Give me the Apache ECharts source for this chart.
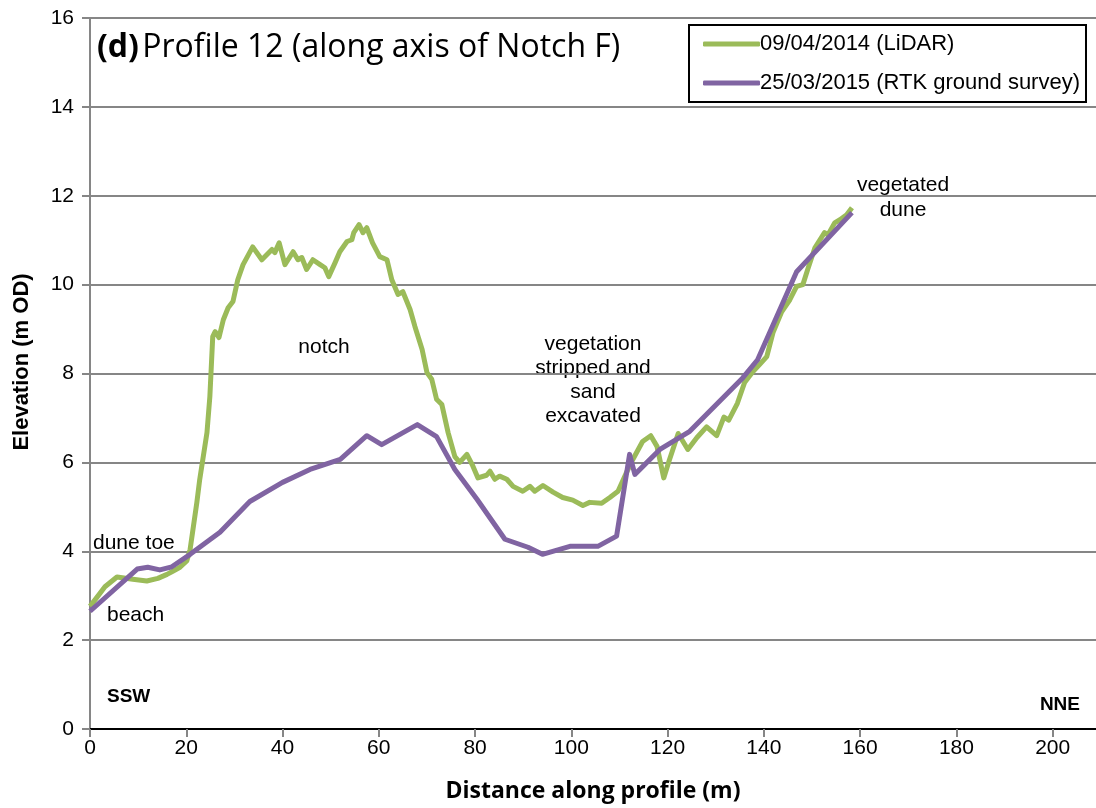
<!DOCTYPE html>
<html><head><meta charset="utf-8">
<script src="https://cdn.jsdelivr.net/npm/echarts@6/dist/echarts.min.js"></script>
<style>html,body{margin:0;padding:0;background:#fff}#c{width:1096px;height:808px}</style>
</head><body><div id="c"></div>
<script>
// LiDAR 09/04/2014
const lidarX = [0,1,3.1,5.6,8.9,11.8,14.1,16,17.2,18.7,20.1,20.8,22.2,22.8,24.3,24.9,25.5,26,26.8,27.7,28.7,29.7,30.7,31.8,33.8,35.7,37.8,38.4,39.3,40.5,42.2,43.2,44,45,46.3,47.8,48.8,49.6,50.9,51.9,53.4,54.4,54.8,55.9,56.7,57.5,58.7,60.2,61.7,62.7,64,65,66.5,67.5,69,70,71,72,73.1,74.4,75.8,76.8,78.3,79.4,80.6,82.4,83.1,84.1,85.1,86.6,87.9,89.9,91.4,92.4,94.1,96.2,98.2,100.3,102.4,103.8,106.3,108,109.7,111.5,112.8,114.8,116.5,117.8,119.2,120.3,122.2,124.2,126.1,128.1,130.2,131.7,132.7,134.5,136,137.7,139.1,140.6,141.9,143.7,145.4,146.8,148.1,149.1,150.6,152.6,153.3,154.7,155.8,157.2,158.3];
const lidarY = [2.76,2.9,3.2,3.42,3.37,3.33,3.39,3.48,3.55,3.64,3.78,4.04,5.1,5.62,6.67,7.48,8.83,8.94,8.81,9.21,9.48,9.62,10.11,10.45,10.85,10.56,10.79,10.72,10.94,10.45,10.74,10.56,10.61,10.34,10.56,10.45,10.38,10.18,10.49,10.74,10.97,11.01,11.17,11.35,11.17,11.28,10.94,10.63,10.56,10.11,9.78,9.84,9.44,9.06,8.54,8.02,7.87,7.42,7.3,6.67,6.13,6.0,6.18,5.95,5.65,5.71,5.8,5.62,5.69,5.62,5.46,5.35,5.46,5.35,5.48,5.33,5.21,5.15,5.03,5.1,5.08,5.21,5.35,5.78,6.07,6.47,6.6,6.36,5.65,6.03,6.65,6.29,6.56,6.8,6.6,7.02,6.95,7.33,7.8,8.04,8.2,8.38,8.92,9.39,9.66,9.96,10.0,10.34,10.83,11.17,11.12,11.39,11.46,11.57,11.73];
// RTK 25/03/2015
const rtkX = [0,9.8,12,14.5,17,20.8,27,33.2,40,45.7,52,57.5,60.6,68,72,75.8,80.4,86.2,91,94,99.7,105.5,109.4,112.1,113.2,118.4,124.6,135.6,138.7,146.8,158.3];
const rtkY = [2.65,3.6,3.64,3.58,3.65,3.93,4.43,5.12,5.55,5.84,6.07,6.6,6.4,6.85,6.58,5.84,5.17,4.27,4.09,3.93,4.11,4.11,4.34,6.18,5.73,6.29,6.7,7.9,8.31,10.29,11.62];
const seriesNames = ['09/04/2014 (LiDAR)','25/03/2015 (RTK ground survey)'];
const xTicks = [0,20,40,60,80,100,120,140,160,180,200];
const yTicks = [0,2,4,6,8,10,12,14,16];

const zip = (a,b)=>a.map((v,i)=>[v,b[i]]);
const chart = echarts.init(document.getElementById('c'));
const AR = 'Liberation Sans, Arial, sans-serif';
const CAL = '"Open Sans", sans-serif';
const txt = (text, x, y, opts={}) => ({type:'text', x:x, y:y, style:Object.assign({text, font:'21px '+AR, fill:'#000', textAlign:'left', textVerticalAlign:'middle'}, opts)});
chart.setOption({
  animation:false,
  grid:{left:90,right:0,top:18,bottom:78,containLabel:false},
  xAxis:[{type:'value',min:0,max:209,interval:20,
    name:'Distance along profile (m)',nameLocation:'middle',nameGap:51,
    nameTextStyle:{fontFamily:CAL,fontWeight:'bold',fontSize:23,color:'#000'},
    axisLine:{show:true,onZero:false,lineStyle:{color:'#868686',width:2}},
    axisTick:{show:true,length:8,lineStyle:{color:'#868686',width:2}},
    axisLabel:{fontFamily:AR,fontSize:21,color:'#000',margin:9,showMaxLabel:false,
      formatter:v=>xTicks.includes(v)?String(v):''},
    splitLine:{show:false}},
    {type:'value',position:'top',min:0,max:209,axisLine:{show:true,lineStyle:{color:'#000',width:2}},
     axisTick:{show:false},axisLabel:{show:false},splitLine:{show:false}}],
  yAxis:{type:'value',min:0,max:16,interval:2,
    axisLine:{show:true,lineStyle:{color:'#868686',width:2}},
    axisTick:{show:true,length:8,lineStyle:{color:'#868686',width:2}},
    axisLabel:{fontFamily:AR,fontSize:21,color:'#000',margin:16,
      formatter:v=>yTicks.includes(v)?String(v):''},
    splitLine:{show:true,lineStyle:{color:'#868686',width:2}}},
  legend:{show:true,orient:'vertical',left:689,top:25,icon:'roundRect',
    padding:[8,6,8,14],itemGap:17,itemWidth:57,itemHeight:5,
    backgroundColor:'#fff',borderColor:'#000',borderWidth:2,
    textStyle:{fontFamily:AR,fontSize:22,lineHeight:22,color:'#000',padding:[0,0,0,-5]},
    data:seriesNames},
  series:[
    {name:seriesNames[0],type:'line',data:zip(lidarX,lidarY),symbol:'none',smooth:false,
     lineStyle:{color:'#9BBB59',width:5,join:'round'},itemStyle:{color:'#9BBB59'},z:2},
    {name:seriesNames[1],type:'line',data:zip(rtkX,rtkY),symbol:'none',smooth:false,
     lineStyle:{color:'#8064A2',width:5,join:'round'},itemStyle:{color:'#8064A2'},z:3}
  ],
  graphic:[
    {type:'text',x:97,y:48,style:{text:'{b|(d)} {n|Profile 12 (along axis of Notch F)}',textVerticalAlign:'middle',
      rich:{b:{font:'bold 32px '+CAL,fill:'#000'},n:{font:'32px '+CAL,fill:'#000'}}}},
    {type:'text',x:22,y:362,rotation:Math.PI/2,style:{text:'Elevation (m OD)',font:'bold 22px '+AR,fill:'#000',textAlign:'center',textVerticalAlign:'middle'}},
    txt('notch',324,347,{textAlign:'center'}),
    {type:'text',left:525,top:332,style:{text:'vegetation\nstripped and\nsand\nexcavated',font:'21px '+AR,fill:'#000',textAlign:'center',lineHeight:24,width:136}},
    {type:'text',left:853,top:173,style:{text:'vegetated\ndune',font:'21px '+AR,fill:'#000',textAlign:'center',lineHeight:25,width:100}},
    txt('dune toe',93,543),
    txt('beach',107,615),
    txt('SSW',107,697,{font:'bold 19px '+AR}),
    txt('NNE',1080,705,{font:'bold 19px '+AR,textAlign:'right'})
  ]
});
</script></body></html>
